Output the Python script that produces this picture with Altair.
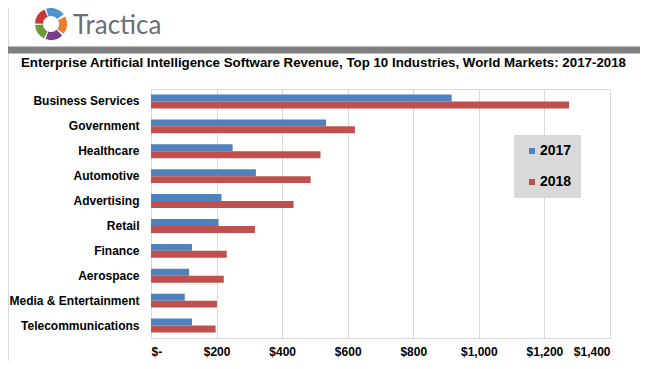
import altair as alt
import pandas as pd
import math

# ---- data ----
industries = ["Business Services", "Government", "Healthcare", "Automotive", "Advertising",
              "Retail", "Finance", "Aerospace", "Media & Entertainment", "Telecommunications"]
rev_2017 = [917, 534, 249, 320, 215, 206, 125, 116, 103, 125]
rev_2018 = [1275, 622, 517, 487, 435, 317, 231, 222, 201, 197]
years = ["2017", "2018"]
year_colors = ["#4f81bd", "#c0504d"]
x_ticks = [0, 200, 400, 600, 800, 1000, 1200, 1400]

title_text = "Enterprise Artificial Intelligence Software Revenue, Top 10 Industries, World Markets: 2017-2018"
brand_text = "Tractica"

# logo segments (decorative)
logo_colors = ["#4d93cf", "#ec7f2d", "#7a3d8c", "#6b9a3b", "#c8383a"]
logo_start_deg = [342, 62, 136, 206, 272]
logo_end_deg = [52, 128, 200, 266, 336]

rows = []
for ind, a, b in zip(industries, rev_2017, rev_2018):
    rows.append({"industry": ind, "year": years[0], "revenue": a})
    rows.append({"industry": ind, "year": years[1], "revenue": b})
df = pd.DataFrame(rows)

FONT = "Liberation Sans"

bars = alt.Chart(df).mark_bar().encode(
    y=alt.Y("industry:N", sort=industries, title=None,
            scale=alt.Scale(paddingInner=0.44, paddingOuter=0.22),
            axis=alt.Axis(labelFont=FONT, labelFontSize=12, labelFontWeight="bold",
                          labelColor="#000000", labelPadding=12, ticks=False, tickSize=0,
                          domain=False, grid=False)),
    yOffset=alt.YOffset("year:N", sort=years, scale=alt.Scale(paddingInner=0, paddingOuter=0)),
    x=alt.X("revenue:Q", title=None,
            scale=alt.Scale(domain=[0, 1400], nice=False),
            axis=alt.Axis(values=x_ticks, labelFont=FONT, labelFontSize=12, labelFontWeight="bold",
                          labelColor="#000000", labelPadding=8, ticks=False, tickSize=0,
                          domain=False, grid=True, gridColor="#d9d9d9", gridWidth=1,
                          labelExpr="datum.value == 0 ? '$-' : '$' + format(datum.value, ',')")),
    color=alt.Color("year:N", sort=years,
                    scale=alt.Scale(domain=years, range=year_colors),
                    legend=alt.Legend(title=None, orient="none", legendX=363, legendY=46,
                                      fillColor="#d9d9d9", padding=9, symbolType="square",
                                      symbolSize=36, symbolOffset=2, symbolStrokeWidth=0,
                                      labelFont=FONT, labelFontSize=14, labelFontWeight="bold",
                                      labelColor="#000000", labelOffset=1, rowPadding=17)),
)

logo_df = pd.DataFrame({
    "c": logo_colors,
    "t0": [math.radians(s) for s in logo_start_deg],
    "t1": [math.radians(e if e > s else e + 360) for s, e in zip(logo_start_deg, logo_end_deg)],
})
logo = alt.Chart(logo_df).mark_arc(innerRadius=8, outerRadius=16).encode(
    theta=alt.Theta("t0:Q", scale=None),
    theta2="t1:Q",
    fill=alt.Fill("c:N", scale=None, legend=None),
    x=alt.value(-100), y=alt.value(-65),
)

brand = alt.Chart(pd.DataFrame({"t": [brand_text]})).mark_text(
    font="Lato", fontSize=26, color="#6d6e71", align="left", baseline="alphabetic"
).encode(text="t:N", x=alt.value(-78), y=alt.value(-55))

bar_rule = alt.Chart(pd.DataFrame({"a": [0]})).mark_rule(color="#808080", strokeWidth=7).encode(
    x=alt.value(-145), x2=alt.value(490), y=alt.value(-39))

frame_left = alt.Chart(pd.DataFrame({"a": [0]})).mark_rule(color="#d9d9d9", strokeWidth=1).encode(
    x=alt.value(-142.5), y=alt.value(-81), y2=alt.value(272))

title = alt.Chart(pd.DataFrame({"t": [title_text]})).mark_text(
    font=FONT, fontSize=13.3, fontWeight="bold", color="#000000", align="left", baseline="alphabetic"
).encode(text="t:N", x=alt.value(-130), y=alt.value(-22))

chart = alt.layer(frame_left, bar_rule, logo, brand, title, bars).properties(
    width=459, height=249,
    autosize=alt.AutoSizeParams(type="none"),
    padding={"left": 143, "top": 81, "right": 30, "bottom": 30},
    background="#ffffff",
).resolve_scale(color="independent").configure_view(stroke="#d9d9d9", strokeWidth=1)

chart.save("out.html", embed_options={"renderer": "svg", "actions": False})
